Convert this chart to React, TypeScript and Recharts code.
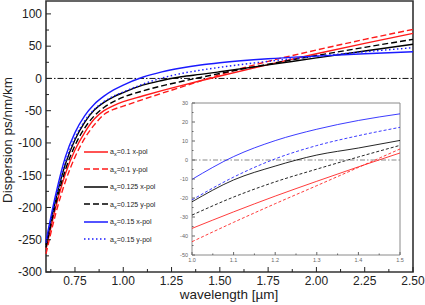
import { CartesianGrid, Legend, Line, LineChart, ReferenceArea, ReferenceLine, XAxis, YAxis } from "recharts"

const FONT = "'Liberation Sans', Arial, sans-serif"

// wavelength in µm, dispersion in ps/nm/km
const WAVELENGTH = [0.6, 0.65, 0.7, 0.75, 0.8, 0.85, 0.9, 0.95, 1.0, 1.1, 1.2, 1.3, 1.4, 1.5, 1.75, 2.0, 2.25, 2.5]
const A010_XPOL = [-265, -200, -148, -111, -84, -63, -50, -42, -36, -27.3, -19, -11.2, -3.6, 3.7, 21.4, 38.2, 54.3, 69.8]
const A010_YPOL = [-272, -210, -160, -122, -93, -72, -56, -48, -43, -32.8, -23, -13.5, -3.9, 5.8, 26.5, 44, 60.5, 76]
const A0125_XPOL = [-258, -188, -133, -95, -68, -49, -37, -28.5, -22, -10.5, -3.2, 2.6, 6.3, 10.3, 21, 31.8, 42.5, 52.9]
const A0125_YPOL = [-262, -195, -142, -104, -77, -58, -45, -36, -29, -19.5, -11.5, -4.8, 1.6, 7.7, 22, 35.5, 48.2, 60.6]
const A015_XPOL = [-252, -180, -122, -84, -58, -40, -27.5, -17.8, -10.2, 1.8, 10.2, 16.2, 20.8, 24.3, 30.5, 34.6, 38.2, 41.4]
const A015_YPOL = [-255, -186, -130, -92, -66, -48, -36, -27.5, -21, -9, 0.6, 7.6, 12.8, 17.2, 26.5, 34.3, 41.3, 47.6]

const X_MAJOR = [0.75, 1.0, 1.25, 1.5, 1.75, 2.0, 2.25, 2.5]
const X_MINOR = [0.625, 0.875, 1.125, 1.375, 1.625, 1.875, 2.125, 2.375]
const Y_MAJOR = [-300, -250, -200, -150, -100, -50, 0, 50, 100]
const Y_MINOR = [-275, -225, -175, -125, -75, -25, 25, 75]

const INSET_X_MAJOR = [1.0, 1.1, 1.2, 1.3, 1.4, 1.5]
const INSET_X_MINOR = [1.05, 1.15, 1.25, 1.35, 1.45]
const INSET_Y_MAJOR = [-50, -40, -30, -20, -10, 0, 10, 20, 30]
const INSET_Y_MINOR = [-45, -35, -25, -15, -5, 5, 15, 25]

const data = WAVELENGTH.map((w, i) => ({
  w,
  r1: A010_XPOL[i],
  r2: A010_YPOL[i],
  k1: A0125_XPOL[i],
  k2: A0125_YPOL[i],
  b1: A015_XPOL[i],
  b2: A015_YPOL[i],
}))
const insetData = data.filter((d) => d.w >= 1.0 && d.w <= 1.5)

const SERIES = [
  { key: "r1", a: "0.1", pol: "x-pol", color: "#ff1a1a", dash: undefined, insetDash: undefined },
  { key: "r2", a: "0.1", pol: "y-pol", color: "#ff1a1a", dash: "6 3", insetDash: "3 2" },
  { key: "k1", a: "0.125", pol: "x-pol", color: "#000000", dash: undefined, insetDash: undefined },
  { key: "k2", a: "0.125", pol: "y-pol", color: "#000000", dash: "6 3", insetDash: "3 2" },
  { key: "b1", a: "0.15", pol: "x-pol", color: "#1a1aff", dash: undefined, insetDash: undefined },
  { key: "b2", a: "0.15", pol: "y-pol", color: "#1a1aff", dash: "1.5 2.5", insetDash: "3 2" },
]

function makeTick(o: {
  side: "bottom" | "left"
  majors: number[]
  major: number
  minor: number
  fontSize: number
  gap: number
  fmt: (v: number) => string
  color: string
  stroke: string
}) {
  return (props: any) => {
    const { x, y, payload } = props
    const v = payload.value
    const isMajor = o.majors.some((m) => Math.abs(m - v) < 1e-9)
    const len = isMajor ? o.major : o.minor
    if (o.side === "bottom") {
      return (
        <g>
          <line x1={x} y1={y} x2={x} y2={y - len} stroke={o.stroke} strokeWidth={1} />
          {isMajor && (
            <text x={x} y={y + o.gap} textAnchor="middle" fontSize={o.fontSize} fontFamily={FONT} fill={o.color}>
              {o.fmt(v)}
            </text>
          )}
        </g>
      )
    }
    return (
      <g>
        <line x1={x} y1={y} x2={x + len} y2={y} stroke={o.stroke} strokeWidth={1} />
        {isMajor && (
          <text x={x - o.gap} y={y + o.fontSize * 0.36} textAnchor="end" fontSize={o.fontSize} fontFamily={FONT} fill={o.color}>
            {o.fmt(v)}
          </text>
        )}
      </g>
    )
  }
}

function LegendBox() {
  return (
    <div style={{ fontFamily: FONT, fontSize: 7, color: "#222" }}>
      {SERIES.map((s) => (
        <div key={s.key} style={{ display: "flex", alignItems: "center", height: 17.5 }}>
          <svg width={26} height={6} style={{ display: "block" }}>
            <line x1={0} y1={3} x2={24} y2={3} stroke={s.color} strokeWidth={1.5} strokeDasharray={s.dash} />
          </svg>
          <span style={{ lineHeight: 1 }}>
            a<span style={{ fontSize: 5.5, position: "relative", top: 2 }}>x</span>={s.a} {s.pol}
          </span>
        </div>
      ))}
    </div>
  )
}

function Inset() {
  return (
    <LineChart width={252} height={170} data={insetData} margin={{ top: 5, right: 14, bottom: 0, left: 0 }}>
      <CartesianGrid horizontal={false} vertical={false} fill="#ffffff" stroke="none" />
      <XAxis
        type="number"
        dataKey="w"
        domain={[1.0, 1.5]}
        ticks={[...INSET_X_MAJOR, ...INSET_X_MINOR]}
        interval={0}
        height={13}
        axisLine={false}
        tickLine={false}
        tickSize={0}
        tickMargin={0}
        tick={makeTick({ side: "bottom", majors: INSET_X_MAJOR, major: 3, minor: 1.5, fontSize: 5.5, gap: 7, fmt: (v) => v.toFixed(1), color: "#666", stroke: "#666" })}
      />
      <YAxis
        type="number"
        domain={[-50, 30]}
        ticks={[...INSET_Y_MAJOR, ...INSET_Y_MINOR]}
        interval={0}
        width={30}
        axisLine={false}
        tickLine={false}
        tickSize={0}
        tickMargin={0}
        tick={makeTick({ side: "left", majors: INSET_Y_MAJOR, major: 3, minor: 1.5, fontSize: 5.5, gap: 4, fmt: (v) => String(v), color: "#666", stroke: "#666" })}
      />
      <ReferenceArea x1={1.0} x2={1.5} y1={-50} y2={30} stroke="#8a8a8a" strokeWidth={1} fill="none" />
      <ReferenceLine y={0} stroke="#888" strokeDasharray="5 2 1.5 2" strokeWidth={1} />
      {SERIES.map((s) => (
        <Line
          key={s.key}
          type="monotone"
          dataKey={s.key}
          stroke={s.color}
          strokeOpacity={0.85}
          strokeWidth={1}
          strokeDasharray={s.insetDash}
          dot={false}
          isAnimationActive={false}
        />
      ))}
    </LineChart>
  )
}

export default function App() {
  return (
    <div style={{ position: "relative", width: 425, height: 305, background: "#fff" }}>
      <style>{"body{margin:0}"}</style>
      <LineChart width={425} height={305} data={data} margin={{ top: 1, right: 12, bottom: 3, left: 0 }}>
        <XAxis
          type="number"
          dataKey="w"
          domain={[0.6, 2.5]}
          ticks={[...X_MAJOR, ...X_MINOR]}
          interval={0}
          height={30}
          axisLine={false}
          tickLine={false}
          tickSize={0}
          tickMargin={0}
          tick={makeTick({ side: "bottom", majors: X_MAJOR, major: 5, minor: 3, fontSize: 12, gap: 13, fmt: (v) => v.toFixed(2), color: "#222", stroke: "#222" })}
          label={() => (
            <text x={229} y={299} textAnchor="middle" fontSize={13.5} fontFamily={FONT} fill="#222">
              wavelength [µm]
            </text>
          )}
        />
        <YAxis
          type="number"
          domain={[-300, 120]}
          allowDataOverflow
          ticks={[...Y_MAJOR, ...Y_MINOR]}
          interval={0}
          width={46}
          axisLine={false}
          tickLine={false}
          tickSize={0}
          tickMargin={0}
          tick={makeTick({ side: "left", majors: Y_MAJOR, major: 5, minor: 3, fontSize: 12, gap: 4, fmt: (v) => String(v), color: "#222", stroke: "#222" })}
          label={() => (
            <text x={11.5} y={140} transform="rotate(-90 11.5 140)" textAnchor="middle" fontSize={13.5} fontFamily={FONT} fill="#222">
              Dispersion ps/nm/km
            </text>
          )}
        />
        <ReferenceArea x1={0.6} x2={2.5} y1={-300} y2={120} stroke="#333" strokeWidth={1.6} fill="none" />
        <ReferenceLine y={0} stroke="#111" strokeDasharray="6 2 1.5 2" strokeWidth={1} />
        {SERIES.map((s) => (
          <Line
            key={s.key}
            type="monotone"
            dataKey={s.key}
            stroke={s.color}
            strokeWidth={1.4}
            strokeDasharray={s.dash}
            dot={false}
            isAnimationActive={false}
          />
        ))}
        <Legend
          layout="vertical"
          align="center"
          verticalAlign="middle"
          content={() => <LegendBox />}
          wrapperStyle={{ left: 84, top: 143, width: 110, height: 106 }}
        />
      </LineChart>
      <div style={{ position: "absolute", left: 162, top: 98 }}>
        <Inset />
      </div>
    </div>
  )
}
